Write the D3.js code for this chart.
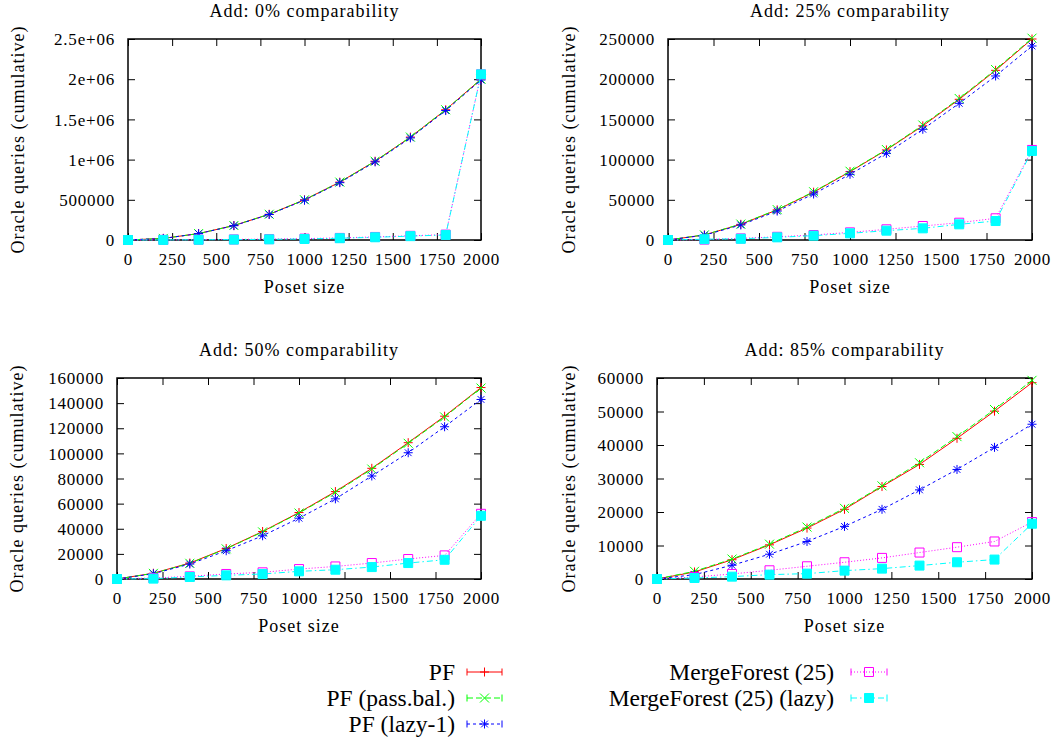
<!DOCTYPE html>
<html>
<head>
<meta charset="utf-8">
<script src="https://cdn.jsdelivr.net/npm/d3@7"></script>
<style>
body { margin: 0; background: #fff; }
text { font-family: "Liberation Serif", "Times New Roman", serif; fill: #000; }
</style>
</head>
<body>
<div id="chart"></div>
<script>
// poset sizes on the x axis
var sizes = [0, 200, 400, 600, 800, 1000, 1200, 1400, 1600, 1800, 2000];
var xTicks = [0, 250, 500, 750, 1000, 1250, 1500, 1750, 2000];

var titles = ["Add: 0% comparability", "Add: 25% comparability",
              "Add: 50% comparability", "Add: 85% comparability"];

var yTicks = [
    [0, 500000, 1000000, 1500000, 2000000, 2500000],
    [0, 50000, 100000, 150000, 200000, 250000],
    [0, 20000, 40000, 60000, 80000, 100000, 120000, 140000, 160000],
    [0, 10000, 20000, 30000, 40000, 50000, 60000]
];
var yTickLabels = [
    ["0", "500000", "1e+06", "1.5e+06", "2e+06", "2.5e+06"],
    ["0", "50000", "100000", "150000", "200000", "250000"],
    ["0", "20000", "40000", "60000", "80000", "100000", "120000", "140000", "160000"],
    ["0", "10000", "20000", "30000", "40000", "50000", "60000"]
];

var seriesNames = ["PF", "PF (pass.bal.)", "PF (lazy-1)", "MergeForest (25)", "MergeForest (25) (lazy)"];

// one row per panel (0%, 25%, 50%, 85%)
var pf = [
    [0, 20000, 80000, 180000, 320000, 500000, 720000, 980000, 1280000, 1620000, 2000000],
    [0, 6300, 19500, 37500, 59500, 85000, 112000, 142000, 175000, 211000, 250000],
    [0, 4600, 12700, 24300, 37800, 52900, 69600, 88100, 108500, 129600, 152400],
    [0, 2100, 5750, 10200, 15200, 20800, 27600, 34200, 42000, 50100, 58600]
];
var pfBal = [
    [0, 20000, 80000, 180000, 320000, 500000, 720000, 980000, 1280000, 1620000, 2000000],
    [0, 6400, 19800, 37800, 60000, 85500, 112500, 143000, 176000, 212000, 251000],
    [0, 4500, 12500, 24000, 37500, 52500, 69000, 87500, 108000, 129000, 152000],
    [0, 2300, 5950, 10400, 15500, 21100, 27800, 34700, 42500, 50600, 59300]
];
var pfLazy = [
    [0, 19500, 79000, 178000, 317000, 495000, 713000, 972000, 1270000, 1610000, 1990000],
    [0, 6000, 18700, 36000, 57200, 81700, 107800, 137700, 170000, 204000, 241300],
    [0, 4200, 11900, 22500, 34400, 48400, 63800, 82000, 100500, 121200, 142900],
    [0, 1300, 4100, 7400, 11200, 15700, 20800, 26600, 32700, 39300, 46200]
];
var mf = [
    [0, 1500, 4000, 7000, 11000, 17000, 26000, 38000, 52000, 67000, 2060000],
    [0, 500, 2000, 4000, 6200, 9500, 13300, 17400, 21500, 27000, 112000],
    [0, 800, 2100, 4000, 5300, 7900, 10000, 12700, 15900, 18800, 51900],
    [0, 600, 1500, 2600, 3800, 5000, 6300, 7900, 9500, 11200, 17000]
];
var mfLazy = [
    [0, 1000, 3000, 5000, 8000, 13000, 22000, 34000, 48000, 63000, 2060000],
    [0, 1000, 1500, 3300, 5400, 8300, 11600, 14500, 19500, 23600, 110700],
    [0, 300, 1600, 2900, 4000, 6100, 7400, 9500, 12700, 15300, 50300],
    [0, 300, 700, 1300, 1600, 2500, 3100, 4000, 5000, 5800, 16500]
];

var allSeries = [pf, pfBal, pfLazy, mf, mfLazy];
var colors = ["#ff0000", "#00ff00", "#0000ff", "#ff00ff", "#00ffff"];
var dashes = [null, "6,3", "3,3", "1,2", "6,3,1.5,3"];
var markers = ["plus", "cross", "star", "box", "fbox"];

var width = 1061, height = 742;
var serif = '"Liberation Serif", "Times New Roman", serif';

// frame of each panel, in pixels
var frames = [
    { left: 128, right: 481, top: 39, bottom: 240, ylab: 18 },
    { left: 668, right: 1032, top: 39, bottom: 240, ylab: 569 },
    { left: 117, right: 481, top: 378, bottom: 579, ylab: 17 },
    { left: 657, right: 1032, top: 378, bottom: 579, ylab: 569 }
];

var svg = d3.select('#chart').append('svg')
    .attr('width', width)
    .attr('height', height);

svg.append('rect').attr('width', width).attr('height', height).attr('fill', '#fff');

function markerPath(type, s) {
    if (type == "plus") return "M" + (-s) + ",0H" + s + "M0," + (-s) + "V" + s;
    if (type == "cross") return "M" + (-s) + "," + (-s) + "L" + s + "," + s + "M" + (-s) + "," + s + "L" + s + "," + (-s);
    if (type == "star") return "M" + (-s) + ",0H" + s + "M0," + (-s) + "V" + s +
        "M" + (-s * 0.75) + "," + (-s * 0.75) + "L" + (s * 0.75) + "," + (s * 0.75) +
        "M" + (-s * 0.75) + "," + (s * 0.75) + "L" + (s * 0.75) + "," + (-s * 0.75);
    return "M" + (-s) + "," + (-s) + "H" + s + "V" + s + "H" + (-s) + "Z";
}

function drawMarker(g, type, color, x, y) {
    g.append('path')
        .attr('d', markerPath(type, 4.5))
        .attr('transform', "translate(" + x + "," + y + ")")
        .attr('fill', type == "fbox" ? color : "none")
        .attr('stroke', color)
        .attr('stroke-width', 1);
}

frames.forEach(function (f, p) {
    var xScale = d3.scaleLinear().domain([0, 2000]).range([f.left, f.right]);
    var ymax = yTicks[p][yTicks[p].length - 1];
    var yScale = d3.scaleLinear().domain([0, ymax]).range([f.bottom, f.top]);
    var g = svg.append('g');

    // ticks (inward, mirrored)
    var xAxisB = d3.axisBottom(xScale).tickValues(xTicks).tickSize(-7).tickFormat(function (d) { return d; });
    var xAxisT = d3.axisTop(xScale).tickValues(xTicks).tickSize(-7).tickFormat("");
    var yAxisL = d3.axisLeft(yScale).tickValues(yTicks[p]).tickSize(-7)
        .tickFormat(function (d, i) { return yTickLabels[p][i]; });
    var yAxisR = d3.axisRight(yScale).tickValues(yTicks[p]).tickSize(-7).tickFormat("");

    var gx = g.append('g').attr('transform', "translate(0," + f.bottom + ")").call(xAxisB);
    gx.selectAll('text').attr('dy', null).attr('y', 25)
        .style('font-size', '17px').style('letter-spacing', '0.8px').style('font-family', serif);
    g.append('g').attr('transform', "translate(0," + f.top + ")").call(xAxisT);
    var gy = g.append('g').attr('transform', "translate(" + f.left + ",0)").call(yAxisL);
    gy.selectAll('text').attr('x', -13).attr('dy', '0.33em')
        .style('font-size', '17px').style('letter-spacing', '0.8px').style('font-family', serif);
    g.append('g').attr('transform', "translate(" + f.right + ",0)").call(yAxisR);
    g.selectAll('.domain').remove();
    g.selectAll('.tick line').attr('stroke', '#000').attr('stroke-width', 1);

    g.append('rect')
        .attr('x', f.left).attr('y', f.top)
        .attr('width', f.right - f.left).attr('height', f.bottom - f.top)
        .attr('fill', 'none').attr('stroke', '#000').attr('stroke-width', 1.5);

    // series
    allSeries.forEach(function (series, s) {
        var vals = series[p];
        var line = d3.line()
            .x(function (d, i) { return xScale(sizes[i]); })
            .y(function (d) { return yScale(d); });
        g.append('path')
            .datum(vals)
            .attr('d', line)
            .attr('fill', 'none')
            .attr('stroke', colors[s])
            .attr('stroke-width', 1)
            .attr('stroke-dasharray', dashes[s]);
        vals.forEach(function (v, i) {
            drawMarker(g, markers[s], colors[s], xScale(sizes[i]), yScale(v));
        });
    });

    // labels
    g.append('text')
        .attr('x', (f.left + f.right) / 2).attr('y', f.top - 22)
        .attr('text-anchor', 'middle').style('font-size', '18px').style('letter-spacing', '1px')
        .text(titles[p]);
    g.append('text')
        .attr('x', (f.left + f.right) / 2).attr('y', f.bottom + 53)
        .attr('text-anchor', 'middle').style('font-size', '18px').style('letter-spacing', '1px')
        .text("Poset size");
    g.append('text')
        .attr('transform', "translate(" + f.ylab + "," + ((f.top + f.bottom) / 2) + ")rotate(-90)")
        .attr('dy', '0.33em')
        .attr('text-anchor', 'middle').style('font-size', '18px').style('letter-spacing', '1px')
        .text("Oracle queries (cumulative)");
});

// legend
var legendCols = [
    { textX: 455, x1: 467, x2: 502, y0: 672 },
    { textX: 834, x1: 851, x2: 887, y0: 672 }
];
var legend = svg.append('g');
seriesNames.forEach(function (name, s) {
    var col = legendCols[s < 3 ? 0 : 1];
    var row = s < 3 ? s : s - 3;
    var y = col.y0 + row * 26;
    legend.append('text')
        .attr('x', col.textX).attr('y', y)
        .attr('dy', '0.33em')
        .attr('text-anchor', 'end')
        .style('font-size', '23.5px')
        .text(name);
    legend.append('path')
        .attr('d', "M" + col.x1 + "," + y + "H" + col.x2)
        .attr('stroke', colors[s]).attr('stroke-width', 1)
        .attr('stroke-dasharray', dashes[s]);
    [col.x1, col.x2].forEach(function (x) {
        legend.append('path')
            .attr('d', "M" + x + "," + (y - 3.5) + "V" + (y + 3.5))
            .attr('stroke', colors[s]).attr('stroke-width', 1);
    });
    drawMarker(legend, markers[s], colors[s], (col.x1 + col.x2) / 2, y);
});
</script>
</body>
</html>
